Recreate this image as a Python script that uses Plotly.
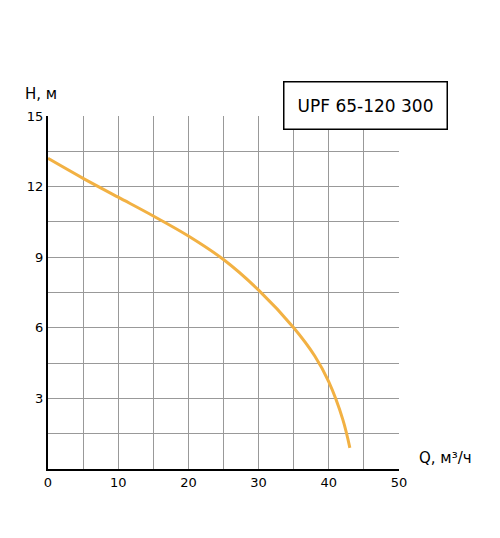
import plotly.graph_objects as go

q = [0, 5, 10, 15, 20, 25, 30, 35, 38, 40, 42, 43]
h = [13.2, 12.35, 11.55, 10.75, 9.9, 8.9, 7.6, 6.0, 4.8, 3.7, 2.1, 0.9]

x_ticks = [0, 10, 20, 30, 40, 50]
y_ticks = [3, 6, 9, 12, 15]

fig = go.Figure(go.Scatter(
    x=q, y=h, mode="lines", line=dict(color="#F2B143", width=3, shape="spline"),
    hoverinfo="skip"))

fig.update_layout(
    width=500, height=538,
    margin=dict(l=40, r=109, t=108, b=77),
    plot_bgcolor="white", paper_bgcolor="white",
    showlegend=False,
    font=dict(family="DejaVu Sans", size=13, color="black"),
    xaxis=dict(range=[0, 50], tickvals=list(range(0, 51, 5)),
               ticktext=[str(v) if v in x_ticks else "" for v in range(0, 51, 5)],
               showgrid=True, gridcolor="#999", gridwidth=1, automargin=False,
               showline=True, linecolor="black", linewidth=2, zeroline=False,
               ticks="", ticklen=0),
    yaxis=dict(range=[0, 15], tickvals=[i * 1.5 for i in range(11)],
               ticktext=[("%g" % (i * 1.5)) if (i * 1.5) in y_ticks else "" for i in range(11)],
               showgrid=True, gridcolor="#999", gridwidth=1, automargin=False,
               showline=True, linecolor="black", linewidth=2, zeroline=False,
               ticks="", ticklen=0),
    annotations=[
        dict(text="H, м", xref="paper", yref="paper", x=-0.07, y=1.03,
             xanchor="left", yanchor="bottom", showarrow=False, font=dict(size=15)),
        dict(text="Q, м³/ч", xref="paper", yref="paper", x=1.05, y=0.0,
             xanchor="left", yanchor="bottom", showarrow=False, font=dict(size=15)),
        dict(text="UPF 65-120 300", xref="paper", yref="paper", x=1.14, y=1.03,
             xanchor="right", yanchor="middle", showarrow=False, font=dict(size=17),
             bordercolor="black", borderwidth=1.5, borderpad=13, bgcolor="white"),
    ],
)

fig.write_html("out.html")
